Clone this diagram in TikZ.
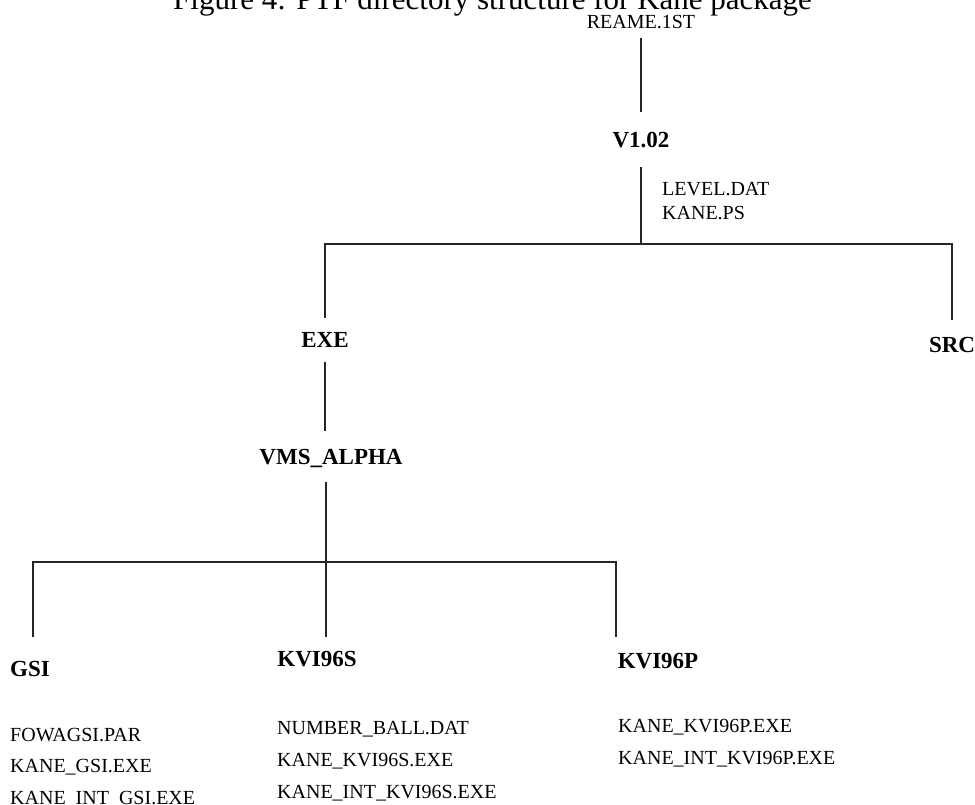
\documentclass[tikz,border=0pt]{standalone}
\usepackage{fontspec}
\setmainfont{Liberation Serif}
\usetikzlibrary{calc}
\newcommand{\fT}{\fontsize{31}{36}\selectfont\mdseries}
\newcommand{\fH}{\fontsize{23}{27}\selectfont\bfseries}
\newcommand{\fB}{\fontsize{20}{24}\selectfont\mdseries}
\tikzset{every node/.style={font=\fB},
  dirnode/.style={font=\fH,inner xsep=0pt,inner ysep=#1,outer sep=0pt,
    text height=15pt,text depth=0pt,anchor=base},
  dirnode/.default=15pt,
  fname/.style={font=\fB,inner sep=0pt,anchor=base west}}
% one column of file names, #4 is the line pitch
\newcommand{\filecol}[5]{%
  \foreach \f [count=\i] in {#5}
    \node[fname] (#1\i) at (#2,{#3+#4*(\i-1)}) {\f};}

\begin{document}
\begin{tikzpicture}[x=1pt,y=-1pt,
    lnk/.style={draw=black!85,line width=1.3pt}]
  \useasboundingbox (0,0) rectangle (975,804);

  % Caption, cut off by the page top
  \node[fname,font=\fT] (title) at (173,9)
    {Figure 4: PTF directory structure for Kane package};

  % Top of the tree
  \node[dirnode=10pt,font=\fB] (readme) at (641,28) {REAME.1ST};
  \node[dirnode=20pt] (v102) at (641,147) {V1.02};
  \coordinate (j1) at (641,244);
  \filecol{top}{662}{195}{24}{LEVEL.DAT,KANE.PS}
  \draw[lnk] (readme) -- (v102);
  \draw[lnk] (v102) -- (j1);

  % EXE and SRC
  \node[dirnode=14.5pt] (exe) at (325,347) {EXE};
  \node[dirnode=17pt] (src) at (952,352) {SRC};
  \draw[lnk] (exe) |- (j1) -| (src);

  % VMS_ALPHA
  \node[dirnode=18pt] (vms) at (331,464) {VMS\_ALPHA};
  \coordinate (j2) at (326,562);
  \draw[lnk] (exe) -- (exe |- vms.north);
  \draw[lnk] (j2 |- vms.south) -- (j2);

  % Executable folders
  \node[dirnode=24pt] (gsi) at (30,676) {GSI};
  \node[dirnode=14pt] (kvis) at (317,666) {KVI96S};
  \node[dirnode=16pt] (kvip) at (658,668) {KVI96P};
  \coordinate (bl) at (33,562);
  \coordinate (br) at (616,562);
  \draw[lnk] (gsi.north -| bl) |- (br) -- (br |- kvip.north);
  \draw[lnk] (j2) -- (j2 |- kvis.north);

  % Files
  \filecol{gsif}{10}{741}{31.5}{FOWAGSI.PAR,KANE\_GSI.EXE,KANE\_INT\_GSI.EXE}
  \filecol{kvisf}{277}{734}{32}{NUMBER\_BALL.DAT,KANE\_KVI96S.EXE,KANE\_INT\_KVI96S.EXE}
  \filecol{kvipf}{618}{732}{32}{KANE\_KVI96P.EXE,KANE\_INT\_KVI96P.EXE}
\end{tikzpicture}
\end{document}
